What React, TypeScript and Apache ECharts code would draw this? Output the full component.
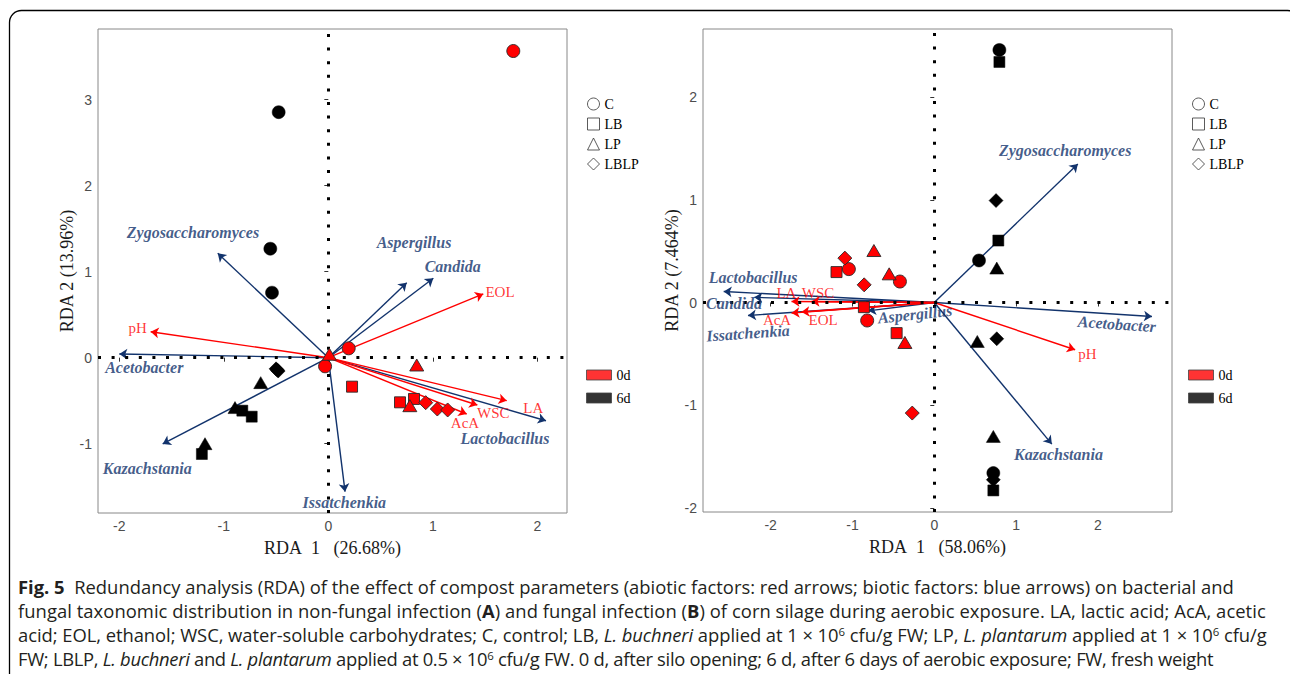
import React, { useEffect, useRef } from 'react';
import * as echarts from 'echarts';

// ---------- axes ----------
const xTicksA = [-2, -1, 0, 1, 2];
const yTicksA = [-1, 0, 1, 2, 3];
const xTicksB = [-2, -1, 0, 1, 2];
const yTicksB = [-2, -1, 0, 1, 2];
const xRangeA = [-2.204, 2.284];
const yRangeA = [-1.806, 3.822];
const xRangeB = [-2.827, 2.906];
const yRangeB = [-2.039, 2.662];
const xTitleA = 'RDA\u00a0\u00a01\u00a0\u00a0\u00a0(26.68%)';
const yTitleA = 'RDA 2 (13.96%)';
const xTitleB = 'RDA\u00a0\u00a01\u00a0\u00a0\u00a0(58.06%)';
const yTitleB = 'RDA 2 (7.464%)';

// ---------- groups ----------
const treatments = ['C', 'LB', 'LP', 'LBLP'];
const days = ['0d', '6d'];

// ---------- panel A sample scores ----------
const aC0 = [[1.77, 3.566], [0.195, 0.109], [-0.031, -0.1]];
const aC6 = [[-0.475, 2.855], [-0.555, 1.267], [-0.539, 0.756]];
const aLB0 = [[0.227, -0.337], [0.686, -0.519], [0.82, -0.48]];
const aLB6 = [[-0.823, -0.616], [-0.733, -0.686], [-1.21, -1.12]];
const aLP0 = [[0.846, -0.085], [0.78, -0.558], [0.01, 0.04]];
const aLP6 = [[-0.647, -0.29], [-0.893, -0.58], [-1.18, -1.0]];
const aLBLP0 = [[0.932, -0.523], [1.043, -0.597], [1.142, -0.608]];
const aLBLP6 = [[-0.5, -0.13], [-0.48, -0.155], [-0.488, -0.143]];

// ---------- panel B sample scores ----------
const bC0 = [[-1.044, 0.325], [-0.42, 0.204], [-0.82, -0.175]];
const bC6 = [[0.796, 2.458], [0.547, 0.409], [0.722, -1.66]];
const bLB0 = [[-1.195, 0.296], [-0.86, -0.045], [-0.46, -0.298]];
const bLB6 = [[0.796, 2.341], [0.783, 0.603], [0.722, -1.829]];
const bLP0 = [[-0.738, 0.506], [-0.551, 0.279], [-0.359, -0.389]];
const bLP6 = [[0.764, 0.335], [0.526, -0.379], [0.722, -1.303]];
const bLBLP0 = [[-1.093, 0.432], [-0.857, 0.172], [-0.269, -1.076]];
const bLBLP6 = [[0.755, 0.992], [0.764, -0.353], [0.722, -1.725]];

// ---------- panel A biplot arrows ----------
const bioticNamesA = ['Zygosaccharomyces', 'Aspergillus', 'Candida', 'Acetobacter', 'Kazachstania', 'Issatchenkia', 'Lactobacillus'];
const bioticTipsA = [[-1.058, 1.214], [0.75, 0.872], [1.005, 0.923], [-2.0, 0.043], [-1.585, -1.003], [0.16, -1.558], [2.083, -0.733]];
const bioticLabelPosA = [[-1.295, 1.46], [0.82, 1.337], [1.19, 1.058], [-1.761, -0.112], [-1.732, -1.294], [0.153, -1.686], [1.691, -0.937]];
const abioticNamesA = ['EOL', 'pH', 'LA', 'WSC', 'AcA'];
const abioticTipsA = [[1.483, 0.741], [-1.7, 0.302], [1.707, -0.5], [1.426, -0.55], [1.324, -0.655]];
const abioticLabelPosA = [[1.643, 0.76], [-1.824, 0.349], [1.962, -0.581], [1.579, -0.647], [1.308, -0.756]];

// ---------- panel B biplot arrows ----------
const bioticNamesB = ['Zygosaccharomyces', 'Lactobacillus', 'Candida', 'Issatchenkia', 'Aspergillus', 'Acetobacter', 'Kazachstania'];
const bioticTipsB = [[1.755, 1.349], [-2.574, 0.107], [-2.2, 0.05], [-2.277, -0.126], [-0.808, -0.081], [2.661, -0.136], [1.437, -1.378]];
const bioticLabelPosB = [[1.6, 1.476], [-2.215, 0.24], [-2.448, -0.006], [-2.277, -0.298], [-0.236, -0.113], [2.232, -0.21], [1.518, -1.475]];
const bioticLabelRotB = [0, 0, 0, 4, 6, -4, 0];
const abioticNamesB = ['pH', 'LA', 'WSC', 'AcA', 'EOL'];
const abioticTipsB = [[1.722, -0.46], [-1.745, 0.01], [-1.5, 0.01], [-1.745, -0.103], [-1.623, -0.093]];
const abioticLabelPosB = [[1.873, -0.499], [-1.807, 0.097], [-1.42, 0.093], [-1.922, -0.168], [-1.359, -0.168]];

// ---------- styles ----------
const SERIF = '"Liberation Serif", "Times New Roman", Times, serif';
const SANS = '"Liberation Sans", Arial, Helvetica, sans-serif';
const BLUE = '#12336c';
const RED = '#ff0000';
const dayColors = ['#ff0000', '#000000'];
const shapeSymbols = ['circle', 'rect', 'triangle', 'diamond'];
const shapeSizes: any[] = [13, 11, [14, 12], 14];
const captionSpacing = [0, 0.05, -0.05, -0.3];

function mkX(idx: number, range: number[], ticks: number[], name: string) {
  return {
    type: 'value', gridIndex: idx, min: range[0], max: range[1], name,
    nameLocation: 'middle', nameGap: 26,
    nameTextStyle: { fontFamily: SERIF, fontSize: 18, color: '#1a1a1a' },
    axisLine: { show: false }, splitLine: { show: false },
    axisTick: { show: true, length: 4, lineStyle: { color: '#333' }, customValues: ticks },
    axisLabel: { customValues: ticks, color: '#4d4d4d', fontSize: 14, fontFamily: SANS, margin: 6 },
  };
}
function mkY(idx: number, range: number[], ticks: number[], name: string) {
  return {
    type: 'value', gridIndex: idx, min: range[0], max: range[1], name,
    nameLocation: 'middle', nameGap: 19,
    nameTextStyle: { fontFamily: SERIF, fontSize: 18, color: '#1a1a1a' },
    axisLine: { show: false }, splitLine: { show: false },
    axisTick: { show: true, length: 4, lineStyle: { color: '#333' }, customValues: ticks },
    axisLabel: { customValues: ticks, color: '#4d4d4d', fontSize: 14, fontFamily: SANS, margin: 6 },
  };
}

function zeroLines(idx: number) {
  return {
    type: 'line', xAxisIndex: idx, yAxisIndex: idx, data: [], silent: true, z: 20,
    markLine: {
      silent: true, symbol: ['none', 'none'], label: { show: false },
      lineStyle: { color: '#000', width: 3, type: [3, 10.6], cap: 'butt' },
      emphasis: { disabled: true },
      data: [{ xAxis: 0 }, { yAxis: 0 }],
    },
  };
}

function arrows(idx: number, tips: number[][], color: string, z: number) {
  return {
    type: 'scatter', xAxisIndex: idx, yAxisIndex: idx, data: [], silent: true, z,
    markLine: {
      silent: true, symbol: ['none', 'arrow'], symbolSize: 8, label: { show: false },
      lineStyle: { color, width: 1.4, type: 'solid' },
      emphasis: { disabled: true },
      data: tips.map((t) => [{ coord: [0, 0] }, { coord: t }]),
    },
  };
}

function labels(idx: number, names: string[], pos: number[][], rot: number[] | null, biotic: boolean) {
  return {
    type: 'scatter', xAxisIndex: idx, yAxisIndex: idx, symbolSize: 1, silent: true, z: 6,
    itemStyle: { color: 'rgba(0,0,0,0)' },
    label: {
      show: true, position: 'inside', formatter: '{b}',
      color: biotic ? BLUE : RED, fontFamily: SERIF,
      fontSize: biotic ? 16 : 15,
      fontStyle: biotic ? 'italic' : 'normal',
      fontWeight: biotic ? 'bold' : 'normal',
      lineHeight: biotic ? 16 : 14,
    },
    data: names.map((n, i) => ({ name: n, value: pos[i], label: { rotate: rot ? rot[i] : 0 } })),
  };
}

function points(idx: number, groups: number[][][][]) {
  const out: any[] = [];
  groups.forEach((pair, ti) => {
    pair.forEach((data, di) => {
      out.push({
        type: 'scatter', xAxisIndex: idx, yAxisIndex: idx, silent: true, z: 8,
        name: treatments[ti] + ' ' + days[di],
        symbol: shapeSymbols[ti], symbolSize: shapeSizes[ti],
        itemStyle: {
          color: dayColors[di],
          borderColor: di === 0 ? '#2a2a2a' : '#000',
          borderWidth: di === 0 ? 0.9 : 0.5,
          opacity: 1,
        },
        data,
      });
    });
  });
  return out;
}

function legends(shapeLeft: number, fillLeft: number) {
  return [
    {
      orient: 'vertical', left: shapeLeft, top: 92, itemWidth: 12, itemHeight: 12, itemGap: 6,
      selectedMode: false, textStyle: { fontFamily: SERIF, fontSize: 14, color: '#000' },
      data: treatments.map((t, i) => ({
        name: t, icon: shapeSymbols[i],
        itemStyle: { color: '#ffffff', borderColor: '#333', borderWidth: 1 },
      })),
    },
    {
      orient: 'vertical', left: fillLeft, top: 363, itemWidth: 25, itemHeight: 10, itemGap: 9,
      selectedMode: false, textStyle: { fontFamily: SERIF, fontSize: 14, color: '#000' },
      data: days.map((d, i) => ({
        name: d, icon: 'rect',
        itemStyle: { color: dayColors[i], borderColor: '#444', borderWidth: 1 },
      })),
    },
  ];
}

const supStyle = { fontSize: '0.62em', verticalAlign: '0.55em', lineHeight: 0 } as const;

const captionLines = [
  <>
    <b>Fig. 5</b>&nbsp; Redundancy analysis (RDA) of the effect of compost parameters (abiotic factors: red arrows; biotic factors: blue arrows) on bacterial and
  </>,
  <>
    fungal taxonomic distribution in non-fungal infection (<b>A</b>) and fungal infection (<b>B</b>) of corn silage during aerobic exposure. LA, lactic acid; AcA, acetic
  </>,
  <>
    acid; EOL, ethanol; WSC, water-soluble carbohydrates; C, control; LB, <i>L. buchneri</i> applied at 1 × 10<sup style={supStyle}>6</sup> cfu/g FW; LP, <i>L. plantarum</i> applied at 1 × 10<sup style={supStyle}>6</sup> cfu/g
  </>,
  <>
    FW; LBLP, <i>L. buchneri</i> and <i>L. plantarum</i> applied at 0.5 × 10<sup style={supStyle}>6</sup> cfu/g FW. 0 d, after silo opening; 6 d, after 6 days of aerobic exposure; FW, fresh weight
  </>,
];

export default function App() {
  const ref = useRef<HTMLDivElement>(null);
  useEffect(() => {
    if (!ref.current) return;
    const chart = echarts.init(ref.current, undefined, { renderer: 'svg' });
    const groupsA = [[aC0, aC6], [aLB0, aLB6], [aLP0, aLP6], [aLBLP0, aLBLP6]];
    const groupsB = [[bC0, bC6], [bLB0, bLB6], [bLP0, bLP6], [bLBLP0, bLBLP6]];
    const legendSeries = [
      ...treatments.map((t, i) => ({ type: 'scatter', name: t, xAxisIndex: 0, yAxisIndex: 0, data: [], symbol: shapeSymbols[i], itemStyle: { color: '#fff', borderColor: '#333', borderWidth: 1 } })),
      ...days.map((d, i) => ({ type: 'scatter', name: d, xAxisIndex: 0, yAxisIndex: 0, data: [], symbol: 'rect', itemStyle: { color: dayColors[i], borderColor: '#444', borderWidth: 1 } })),
    ];
    const option: any = {
      animation: false,
      graphic: [
        {
          type: 'rect', silent: true, z: 0,
          shape: { x: 9.5, y: 10.5, width: 1290, height: 700, r: 12 },
          style: { fill: 'none', stroke: '#000', lineWidth: 1.3 },
        },
      ],
      grid: [
        { left: 98, top: 29, width: 469, height: 484, show: true, borderColor: '#888', borderWidth: 1, backgroundColor: 'transparent' },
        { left: 703, top: 29, width: 469, height: 483, show: true, borderColor: '#888', borderWidth: 1, backgroundColor: 'transparent' },
      ],
      xAxis: [mkX(0, xRangeA, xTicksA, xTitleA), mkX(1, xRangeB, xTicksB, xTitleB)],
      yAxis: [mkY(0, yRangeA, yTicksA, yTitleA), mkY(1, yRangeB, yTicksB, yTitleB)],
      legend: [...legends(582, 581), ...legends(1187, 1183)],
      series: [
        ...legendSeries,
        arrows(0, bioticTipsA, BLUE, 3),
        arrows(0, abioticTipsA, RED, 4),
        ...points(0, groupsA),
        labels(0, bioticNamesA, bioticLabelPosA, null, true),
        labels(0, abioticNamesA, abioticLabelPosA, null, false),
        zeroLines(0),
        arrows(1, bioticTipsB, BLUE, 3),
        arrows(1, abioticTipsB, RED, 4),
        ...points(1, groupsB),
        labels(1, bioticNamesB, bioticLabelPosB, bioticLabelRotB, true),
        labels(1, abioticNamesB, abioticLabelPosB, null, false),
        zeroLines(1),
      ],
    };
    chart.setOption(option);
    return () => chart.dispose();
  }, []);

  return (
    <div style={{ position: 'fixed', left: 0, top: 0, width: 1290, height: 674, background: '#fff', overflow: 'hidden' }}>
      <div ref={ref} style={{ position: 'absolute', left: 0, top: 0, width: 1290, height: 674 }} />
      {captionLines.map((line, i) => (
        <div
          key={i}
          style={{
            position: 'absolute', left: 18, top: 575 + i * 24, whiteSpace: 'nowrap',
            fontFamily: '"Open Sans", "Noto Sans", sans-serif', fontSize: 18.4, lineHeight: '24px',
            letterSpacing: `${captionSpacing[i]}px`, color: '#231f20',
          }}
        >
          {line}
        </div>
      ))}
    </div>
  );
}
